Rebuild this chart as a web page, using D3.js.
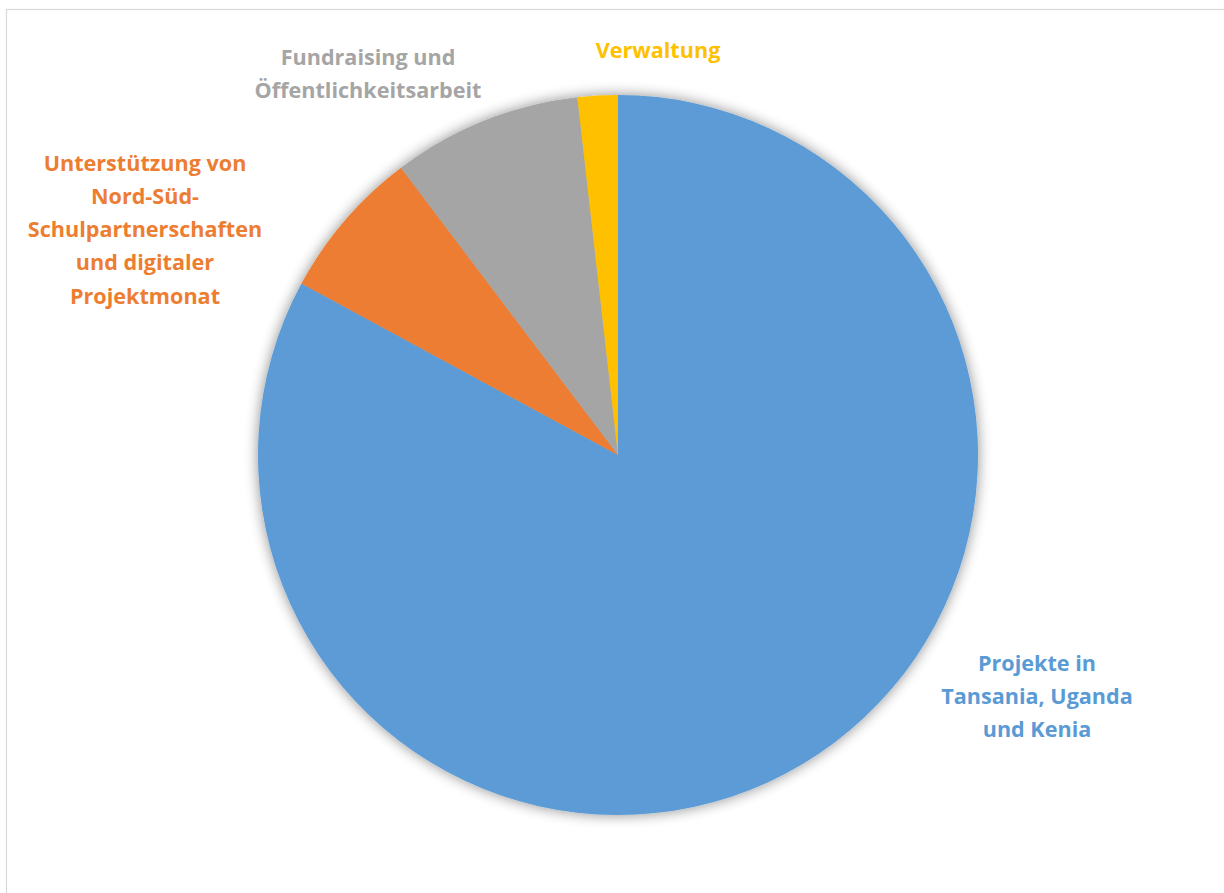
<!DOCTYPE html>
<html>
<head>
<meta charset="utf-8">
<script src="https://cdn.jsdelivr.net/npm/d3@7"></script>
<style>
    body { margin: 0; background: #fff; }
    text { font-family: "Open Sans", Lato, sans-serif; font-weight: bold; }
</style>
</head>
<body>
<div class="container"></div>
<script>
var svgWidth = 1224;
var svgHeight = 893;

// data (share of total, %)
var categories = [
    "Projekte in Tansania, Uganda und Kenia",
    "Unterstützung von Nord-Süd-Schulpartnerschaften und digitaler Projektmonat",
    "Fundraising und Öffentlichkeitsarbeit",
    "Verwaltung"
];
var values = [82.9, 6.8, 8.5, 1.8];
var colors = ["#5B9BD5", "#ED7D31", "#A5A5A5", "#FFC000"];

// label lines as shown in the chart
var labelLines = [
    ["Projekte in", "Tansania, Uganda", "und Kenia"],
    ["Unterstützung von", "Nord-Süd-", "Schulpartnerschaften", "und digitaler", "Projektmonat"],
    ["Fundraising und", "Öffentlichkeitsarbeit"],
    ["Verwaltung"]
];
// label anchor (centre of first line)
var labelPos = [[1037, 663], [145, 163], [368, 57], [658, 50]];

var center = { x: 618, y: 455 };
var radius = 360;
var lineHeight = 33.3;

var svg = d3
    .select(".container")
    .append("svg")
    .attr("width", svgWidth)
    .attr("height", svgHeight);

// chart frame
svg.append("rect")
    .attr("x", 6.5)
    .attr("y", 9.5)
    .attr("width", 1240)
    .attr("height", 900)
    .attr("fill", "none")
    .attr("stroke", "#d9d9d9")
    .attr("stroke-width", 1.2);

var defs = svg.append("defs");
var filter = defs.append("filter")
    .attr("id", "glow")
    .attr("x", "-20%").attr("y", "-20%")
    .attr("width", "140%").attr("height", "140%");
filter.append("feGaussianBlur")
    .attr("in", "SourceAlpha")
    .attr("stdDeviation", 7)
    .attr("result", "blur");
filter.append("feComponentTransfer")
    .attr("in", "blur")
    .attr("result", "shadow")
    .append("feFuncA")
    .attr("type", "linear")
    .attr("slope", 0.45);
var merge = filter.append("feMerge");
merge.append("feMergeNode").attr("in", "shadow");
merge.append("feMergeNode").attr("in", "SourceGraphic");

var pieData = d3.pie()
    .sort(null)
    .value(d => d)(values);

var arc = d3.arc()
    .innerRadius(0)
    .outerRadius(radius);

var chartGroup = svg.append("g")
    .attr("transform", `translate(${center.x}, ${center.y})`);

chartGroup.append("g")
    .attr("filter", "url(#glow)")
    .selectAll("path")
    .data(pieData)
    .enter()
    .append("path")
    .attr("d", arc)
    .attr("fill", (d, i) => colors[i]);

var labels = svg.selectAll(".label")
    .data(labelLines)
    .enter()
    .append("text")
    .attr("class", "label")
    .attr("text-anchor", "middle")
    .attr("font-size", 21.6)
    .attr("fill", (d, i) => colors[i]);

labels.each(function(lines, i) {
    var t = d3.select(this);
    lines.forEach(function(line, j) {
        t.append("tspan")
            .attr("x", labelPos[i][0])
            .attr("y", labelPos[i][1] + j * lineHeight)
            .attr("dy", "0.35em")
            .text(line);
    });
});
</script>
</body>
</html>
